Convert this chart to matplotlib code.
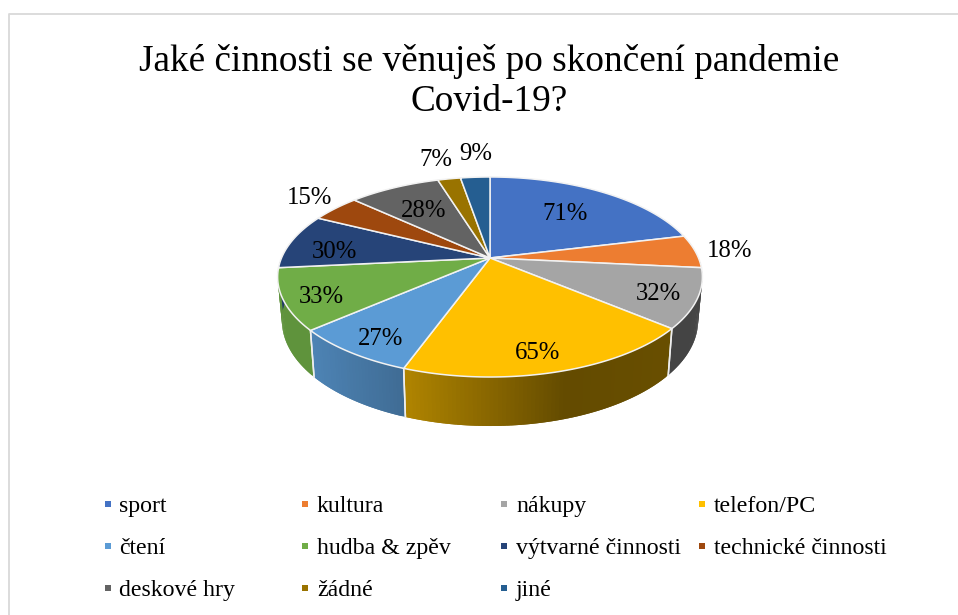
import numpy as np
import matplotlib
matplotlib.use('Agg')
import matplotlib.pyplot as plt

plt.rcParams['font.family'] = ['Liberation Serif', 'DejaVu Serif']

title = 'Jaké činnosti se věnuješ po skončení pandemie\nCovid-19?'
categories = ['sport', 'kultura', 'nákupy', 'telefon/PC', 'čtení', 'hudba & zpěv',
              'výtvarné činnosti', 'technické činnosti', 'deskové hry', 'žádné', 'jiné']
values = [71, 18, 32, 65, 27, 33, 30, 15, 28, 7, 9]
colors = ['#4472C4', '#ED7D31', '#A5A5A5', '#FFC000', '#5B9BD5', '#70AD47',
          '#264478', '#9E480E', '#636363', '#997300', '#255E91']

# label centres in pixels, same order as values
label_pos = [(565, 214), (730, 251), (658, 294), (538, 353), (381, 339), (321, 297),
             (335, 252), (309, 198), (424, 211), (436, 160), (476, 154)]
legend_cols = [108, 305, 504, 702]
legend_rows = [504, 546, 588]

W, H = 958, 615
fig = plt.figure(figsize=(W / 100, H / 100), dpi=100)
ax = fig.add_axes([0, 0, 1, 1])
ax.set_xlim(0, W)
ax.set_ylim(H, 0)
ax.axis('off')

# frame of the chart, open on the right and the bottom
ax.plot([9, 9, W], [H, 13.5, 13.5], color='#d9d9d9', lw=1.3)


def project(ang):
    # perspective view of the unit circle, angle clockwise from the top
    u = np.sin(ang)
    v = np.cos(ang)
    w = 1 + 0.19 * v
    return 490 + 208.5 * u / w, 258 - 96.4 * v / w


def project_low(ang):
    x, y = project(ang)
    v = np.cos(ang)
    return 490 + 0.98 * (x - 490), y + 42 - 7 * v


def shade(ang):
    return np.interp(np.sin(ang), [-1, -0.75, -0.4, 0.3, 1], [0.85, 0.85, 0.72, 0.39, 0.42])


edges = np.cumsum([0] + values) / sum(values) * 2 * np.pi

# side wall first, only the front half can be seen
for i, col in enumerate(colors):
    a0, a1 = edges[i], edges[i + 1]
    lo, hi = max(a0, np.pi / 2), min(a1, 3 * np.pi / 2)
    if hi <= lo:
        continue
    rgb = np.array(matplotlib.colors.to_rgb(col))
    steps = np.linspace(lo, hi, int((hi - lo) * 60) + 2)
    for k in range(len(steps) - 1):
        # each strip runs over the next one so no seams show between them
        s = np.linspace(steps[k], steps[min(k + 2, len(steps) - 1)], 4)
        xt, yt = project(s)
        xb, yb = project_low(s)
        c = rgb * shade((steps[k] + steps[k + 1]) / 2)
        ax.fill(np.r_[xt, xb[::-1]], np.r_[yt, yb[::-1]], facecolor=c, edgecolor='none',
                zorder=2)
    # white seam between two slices
    for a in (a0, a1):
        if np.radians(100) < a < np.radians(260):
            xt, yt = project(a)
            xb, yb = project_low(a)
            ax.plot([xt, xb], [yt, yb], color='#eeeeee', lw=1.1, zorder=3)

# top face
for i, col in enumerate(colors):
    t = np.linspace(edges[i], edges[i + 1], 80)
    xs, ys = project(t)
    ax.fill(np.r_[490, xs], np.r_[258, ys], facecolor=col, edgecolor='#f2f2f2',
            lw=1.1, zorder=4, joinstyle='round')

# data labels
for val, (x, y) in zip(values, label_pos):
    ax.text(x, y, f'{val}%', fontsize=17.8, ha='center', va='center', color='black', zorder=5)

ax.text(489.5, 81.5, title, fontsize=26.85, ha='center', va='center', color='black',
        linespacing=1.22)

# legend
for i, (cat, col) in enumerate(zip(categories, colors)):
    row, column = divmod(i, 4)
    lx, ly = legend_cols[column], legend_rows[row]
    ax.plot(lx, ly, marker='s', ms=4.5, color=col, mew=0, ls='none')
    ax.text(legend_cols[column] + 12 - (column == 0), ly, cat, fontsize=17.2, ha='left',
            va='center_baseline', color='black')

fig.savefig('out.png', dpi=100, facecolor='white')
